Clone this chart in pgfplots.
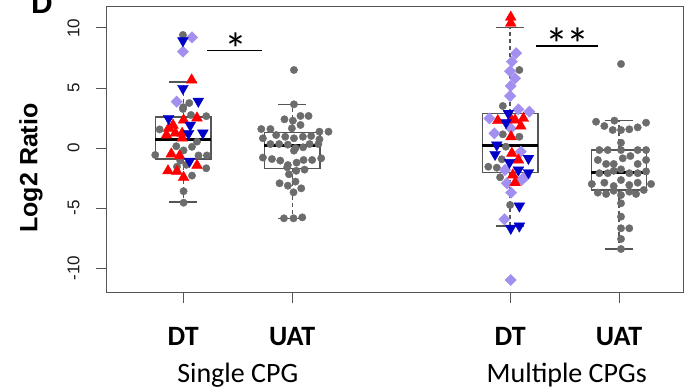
\documentclass[border=0pt]{standalone}
\usepackage{fontspec}
\setmainfont{Carlito}
\newfontfamily\arial{Liberation Sans}
\usepackage{pgfplots}
\pgfplotsset{compat=1.18}
\definecolor{ptgray}{RGB}{108,108,108}
\definecolor{ptpurple}{RGB}{163,143,240}
\definecolor{ptred}{RGB}{255,0,0}
\definecolor{ptblue}{RGB}{0,0,200}
\definecolor{boxgray}{RGB}{85,85,85}
\pgfplotsset{
  boxs/.style={boxgray, line width=1.3pt, line join=miter, forget plot},
  meds/.style={black, line width=3pt, forget plot},
  whis/.style={boxgray, line width=1.3pt, dash pattern=on 4pt off 3pt, forget plot},
  caps/.style={boxgray, line width=1.3pt, forget plot},
  pgray/.style={only marks, mark=*, mark size=3.7pt, color=ptgray},
  ppurple/.style={only marks, mark=square*, mark size=4pt, color=ptpurple, mark options={rotate=45}},
  pred/.style={only marks, mark=triangle*, mark size=6.2pt, color=ptred},
  pblue/.style={only marks, mark=triangle*, mark size=6.2pt, color=ptblue, mark options={rotate=180}},
}
\begin{document}
\begin{tikzpicture}
\begin{axis}[
  scale only axis, width=576pt, height=285pt,
  xmin=0.30, xmax=5.587, ymin=-12, ymax=11.75,
  clip=false,
  axis line style={boxgray, line width=1pt},
  xtick={1,2,4,5}, xticklabels={},
  ytick={-10,-5,0,5,10}, yticklabels={-10,-5,0,5,10},
  xtick pos=lower, ytick pos=left, tick align=outside,
  major tick length=11pt,
  tick style={boxgray, line width=1pt},
  yticklabel style={xshift=-13pt, rotate=90, anchor=south, font=\arial\fontsize{17}{20}\selectfont, text=black!90},
  ylabel={\bfseries Log2 Ratio},
  ylabel style={at={(axis description cs:-0.132,0.435)}, anchor=center, font=\arial\fontsize{25}{30}\selectfont},
]
\coordinate (ll) at (rel axis cs:0,0);
% ---- boxes ----
% group 1: DT single
\addplot[boxs] coordinates {(0.745,-0.92) (1.255,-0.92) (1.255,2.58) (0.745,2.58) (0.745,-0.92)};
\addplot[whis] coordinates {(1,2.58) (1,5.5)};
\addplot[whis] coordinates {(1,-0.92) (1,-4.5)};
\addplot[caps] coordinates {(0.872,5.5) (1.128,5.5)};
\addplot[caps] coordinates {(0.872,-4.5) (1.128,-4.5)};
\addplot[meds] coordinates {(0.745,0.67) (1.255,0.67)};
% group 2: UAT single
\addplot[boxs] coordinates {(1.745,-1.69) (2.255,-1.69) (2.255,1.28) (1.745,1.28) (1.745,-1.69)};
\addplot[whis] coordinates {(2,1.28) (2,3.64)};
\addplot[whis] coordinates {(2,-1.69) (2,-5.86)};
\addplot[caps] coordinates {(1.872,3.64) (2.128,3.64)};
\addplot[caps] coordinates {(1.872,-5.86) (2.128,-5.86)};
\addplot[meds] coordinates {(1.745,0.25) (2.255,0.25)};
% group 3: DT multiple
\addplot[boxs] coordinates {(3.745,-2.06) (4.255,-2.06) (4.255,2.89) (3.745,2.89) (3.745,-2.06)};
\addplot[whis] coordinates {(4,2.89) (4,10.05)};
\addplot[whis] coordinates {(4,-2.06) (4,-6.5)};
\addplot[caps] coordinates {(3.872,10.05) (4.128,10.05)};
\addplot[caps] coordinates {(3.872,-6.5) (4.128,-6.5)};
\addplot[meds] coordinates {(3.745,0.17) (4.255,0.17)};
% group 4: UAT multiple
\addplot[boxs] coordinates {(4.745,-3.5) (5.255,-3.5) (5.255,-0.17) (4.745,-0.17) (4.745,-3.5)};
\addplot[whis] coordinates {(5,-0.17) (5,2.28)};
\addplot[whis] coordinates {(5,-3.5) (5,-8.42)};
\addplot[caps] coordinates {(4.872,2.28) (5.128,2.28)};
\addplot[caps] coordinates {(4.872,-8.42) (5.128,-8.42)};
\addplot[meds] coordinates {(4.745,-2.03) (5.255,-2.03)};
% ---- points ----
\addplot[pgray] coordinates {
 (0.997,9.42) (1.055,3.75) (0.997,3.25) (1.071,2.75) (1.211,2.65) (1.0,3.4) (0.783,1.55)
 (1.126,0.53) (0.936,0.15) (1.08,0.1) (0.743,-0.58) (1.003,-0.2) (1.14,-0.62) (1.217,-0.62)
 (0.972,-1.05) (0.942,-1.56) (1.211,-1.69) (1.028,-1.4) (1.08,-2.3) (1.003,-3.6) (1.003,-4.56)
 (2.016,6.5) (2.016,3.64) (1.929,2.39) (2.006,2.28) (2.076,2.67) (2.15,2.67) (2.076,1.92)
 (1.997,1.64) (1.716,1.58) (1.80,1.58) (2.25,1.36) (2.333,1.36) (1.731,0.81) (1.853,1.08)
 (1.936,0.94) (2.016,0.81) (2.098,0.94) (2.174,1.0) (2.25,0.72) (1.80,0.33) (1.88,0.33)
 (1.96,0.28) (2.03,0.0) (2.10,0.06) (2.16,0.33) (2.24,0.33) (2.016,-0.22) (1.731,-0.8)
 (1.814,-0.92) (1.89,-1.05) (1.96,-1.42) (2.04,-1.22) (2.104,-1.0) (2.183,-1.0) (2.266,-0.86)
 (1.954,-1.6) (2.037,-1.9) (2.113,-1.8) (1.97,-2.19) (1.884,-2.94) (1.96,-3.14) (2.03,-2.8)
 (2.012,-3.69) (2.083,-3.36) (1.924,-5.86) (2.012,-5.86) (2.092,-5.78)
 (4.085,6.5) (3.933,3.5) (3.933,1.14) (4.085,0.94) (3.961,0.11) (3.924,-0.94) (3.80,-1.56)
 (3.878,-1.64) (3.908,-2.44) (4.0,-4.75)
 (5.018,7.0) (4.789,2.19) (4.865,1.83) (4.957,2.28) (4.942,1.5) (5.018,1.5) (5.094,1.56)
 (5.171,1.72) (5.248,2.11) (5.018,0.44) (4.819,-0.17) (4.896,-0.17) (5.018,-0.17) (5.171,-0.17)
 (5.248,-0.17) (4.805,-1.0) (4.881,-1.33) (4.951,-1.33) (5.034,-0.86) (5.104,-0.67) (5.171,-1.33)
 (5.248,-1.0) (4.819,-2.1) (4.896,-2.1) (4.951,-1.9) (5.018,-1.78) (5.094,-2.1) (5.171,-2.1)
 (5.248,-1.95) (4.75,-3.0) (4.865,-2.89) (4.951,-3.17) (5.018,-2.67) (5.094,-3.08) (5.171,-2.89)
 (5.294,-3.0) (4.805,-3.72) (4.881,-3.83) (4.951,-3.56) (5.018,-3.92) (5.094,-3.64) (5.156,-3.83)
 (5.227,-3.5) (5.018,-4.61) (5.018,-5.72) (5.018,-6.69) (5.094,-6.69) (5.018,-7.58) (5.018,-8.42)
};
\addplot[ppurple] coordinates {
 (1.08,9.22) (0.997,8.03) (0.94,3.86)
 (4.055,7.9) (4.016,7.2) (4.0,6.4) (4.046,5.8) (4.006,5.17) (4.0,4.33) (4.076,3.22) (4.177,3.03)
 (3.81,2.47) (3.856,1.22) (4.006,1.64) (4.098,-0.31) (3.954,-1.83) (4.138,-2.39) (4.107,-2.67)
 (3.97,-2.94) (4.009,-3.72) (3.948,-5.94) (4.006,-11.0)
};
\addplot[pred] coordinates {
 (1.077,5.67) (1.003,2.33) (1.126,2.5) (0.906,1.9) (0.866,1.64) (0.99,1.22) (0.846,1.08)
 (0.927,1.25) (0.99,0.83) (0.89,-0.5) (0.966,-0.65) (1.126,-1.45) (0.86,-1.9) (0.942,-1.95)
 (1.003,-2.45)
 (4.006,10.9) (4.006,10.4) (3.887,2.28) (4.009,2.39) (4.122,2.47) (4.046,2.33) (4.098,1.83)
 (4.009,0.94) (4.016,-0.44) (4.076,-1.0) (4.025,-2.25) (4.046,-2.89)
};
\addplot[pblue] coordinates {
 (0.997,8.94) (0.997,4.97) (1.138,3.9) (0.865,2.47) (1.064,1.9) (1.049,1.22) (1.18,1.25) (1.058,-1.1)
 (3.984,2.89) (3.963,2.11) (3.878,0.25) (3.862,-0.53) (4.168,-0.86) (3.994,-1.2) (4.076,-1.83)
 (4.168,-2.05) (4.085,-4.83) (4.006,-6.69) (4.085,-6.5)
};
% ---- significance ----
\draw[black, line width=1.4pt] (axis cs:1.22,8.1) -- (axis cs:1.725,8.1);
\node[anchor=base, font=\fontsize{46}{50}\selectfont, inner sep=0pt] at (axis cs:1.48,6.9) {*};
\draw[black, line width=1.4pt] (axis cs:4.24,8.5) -- (axis cs:4.81,8.5);
\node[anchor=base, font=\fontsize{46}{50}\selectfont, inner sep=0pt] at (axis cs:4.53,7.3) {*\kern-2pt*};
% ---- category labels ----
\node[anchor=base, font=\bfseries\fontsize{28}{34}\selectfont] at (axis cs:1,-16.42) {DT};
\node[anchor=base, font=\bfseries\fontsize{28}{34}\selectfont] at (axis cs:2,-16.42) {UAT};
\node[anchor=base, font=\bfseries\fontsize{28}{34}\selectfont] at (axis cs:4,-16.42) {DT};
\node[anchor=base, font=\bfseries\fontsize{28}{34}\selectfont] at (axis cs:5,-16.42) {UAT};
\node[anchor=base, font=\fontsize{28}{34}\selectfont] at (axis cs:1.5,-19.58) {Single CPG};
\node[anchor=base, font=\fontsize{28}{34}\selectfont] at (axis cs:4.52,-19.58) {Multiple CPGs};
\end{axis}
\node[anchor=base west, inner sep=0pt, font=\arial\bfseries\fontsize{30}{36}\selectfont] at ([xshift=-76pt,yshift=278pt]ll) {D};
\pgfresetboundingbox
\path[use as bounding box] ([xshift=-107pt,yshift=-99pt]ll) rectangle ([xshift=580pt,yshift=292pt]ll);
\end{tikzpicture}
\end{document}
